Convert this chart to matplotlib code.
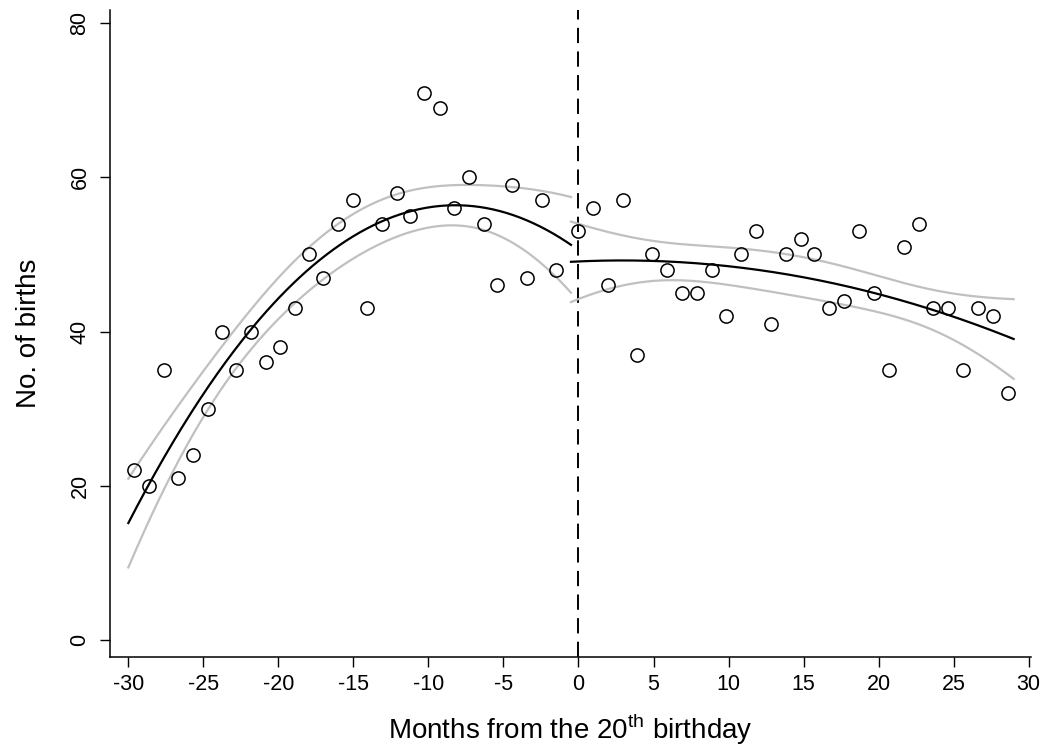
import matplotlib
matplotlib.use('Agg')
import matplotlib.pyplot as plt
import numpy as np

plt.rcParams['font.family'] = ['Liberation Sans', 'DejaVu Sans']
plt.rcParams['mathtext.fontset'] = 'custom'
plt.rcParams['mathtext.rm'] = 'Liberation Sans'
plt.rcParams['lines.scale_dashes'] = False

# months from the 20th birthday, before the birthday
x_before = [-29.6, -28.6, -27.6, -26.7, -25.7, -24.7, -23.75, -22.8, -21.8, -20.8,
            -19.9, -18.9, -17.95, -17.0, -16.0, -15.0, -14.1, -13.1, -12.1, -11.2,
            -10.3, -9.2, -8.3, -7.3, -6.3, -5.4, -4.4, -3.4, -2.4, -1.5]
births_before = [22, 20, 35, 21, 24, 30, 40, 35, 40, 36,
                 38, 43, 50, 47, 54, 57, 43, 54, 58, 55,
                 71, 69, 56, 60, 54, 46, 59, 47, 57, 48]

# after the birthday
x_after = [0.0, 1.0, 1.96, 2.96, 3.9, 4.9, 5.9, 6.9, 7.9, 8.9,
           9.8, 10.8, 11.8, 12.8, 13.8, 14.8, 15.7, 16.7, 17.7, 18.7,
           19.7, 20.7, 21.7, 22.7, 23.6, 24.6, 25.6, 26.6, 27.6, 28.6]
births_after = [53, 56, 46, 57, 37, 50, 48, 45, 45, 48,
                42, 50, 53, 41, 50, 52, 50, 43, 44, 53,
                45, 35, 51, 54, 43, 43, 35, 43, 42, 32]

# range over which the fitted curves are drawn
range_before = (-30, -0.5)
range_after = (-0.5, 29)

x_ticks = [-30, -25, -20, -15, -10, -5, 0, 5, 10, 15, 20, 25, 30]
y_ticks = [0, 20, 40, 60, 80]


def qfit_ci(x, y, lo, hi, crit=1.645):
    # quadratic fit with confidence band of the mean (like stata qfitci)
    x = np.asarray(x, float)
    y = np.asarray(y, float)
    X = np.column_stack([np.ones_like(x), x, x ** 2])
    beta, _, _, _ = np.linalg.lstsq(X, y, rcond=None)
    resid = y - X @ beta
    s2 = resid @ resid / (len(x) - 3)
    cov = s2 * np.linalg.inv(X.T @ X)
    xs = np.linspace(lo, hi, 200)
    Xs = np.column_stack([np.ones_like(xs), xs, xs ** 2])
    yhat = Xs @ beta
    se = np.sqrt(np.einsum('ij,jk,ik->i', Xs, cov, Xs))
    return xs, yhat, yhat - crit * se, yhat + crit * se


fig = plt.figure(figsize=(10.46, 7.51), dpi=100, facecolor='white')
ax = fig.add_axes([0.1052, 0.1252, 0.8805, 0.8615])

for xx, yy, rng in [(x_before, births_before, range_before),
                    (x_after, births_after, range_after)]:
    xs, yhat, lo, hi = qfit_ci(xx, yy, *rng)
    ax.plot(xs, lo, color='#c0c0c0', lw=1.6, zorder=2)
    ax.plot(xs, hi, color='#c0c0c0', lw=1.6, zorder=2)
    ax.plot(xs, yhat, color='black', lw=1.6, zorder=3)
    ax.plot(xx, yy, 'o', ms=9.5, mfc='none', mec='black', mew=1.1, zorder=4)

# cutoff at the birthday
ax.axvline(0, color='black', lw=1.4, dashes=(11, 6), zorder=1)

ax.set_xlim(-31.22, 30.16)
ax.set_ylim(-2.2, 81.7)
ax.set_xticks(x_ticks)
ax.set_yticks(y_ticks)
ax.set_xticklabels([str(t) for t in x_ticks])
ax.set_yticklabels([str(t) for t in y_ticks], rotation=90, va='center')

for side in ['top', 'right']:
    ax.spines[side].set_visible(False)
for side in ['left', 'bottom']:
    ax.spines[side].set_linewidth(1.1)
ax.tick_params(direction='out', length=7, width=1.0, labelsize=15.5)
ax.tick_params(axis='x', pad=5)
ax.tick_params(axis='y', pad=7)

ax.set_xlabel(r'Months from the 20$^{\mathrm{th}}$ birthday', fontsize=20, labelpad=12)
ax.set_ylabel('No. of births', fontsize=20, labelpad=20)

fig.savefig('out.png', dpi=100, facecolor='white')
